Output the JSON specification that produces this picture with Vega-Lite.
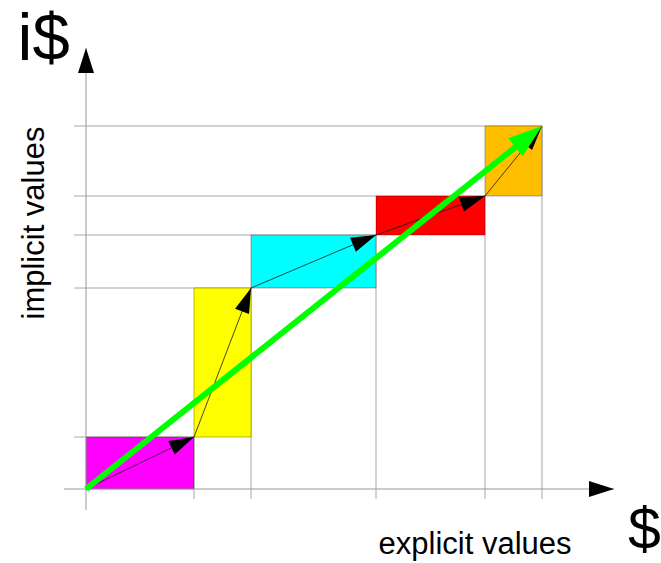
{
  "$schema": "https://vega.github.io/schema/vega-lite/v6.json",
  "width": 661,
  "height": 563,
  "autosize": {"type": "none"},
  "padding": 0,
  "background": "white",
  "config": {
    "view": {"stroke": null}
  },
  "datasets": {
    "steps": [
      {"segment": "1", "x0": 0, "y0": 0, "x": 108, "y": 52},
      {"segment": "2", "x0": 108, "y0": 52, "x": 165, "y": 201},
      {"segment": "3", "x0": 165, "y0": 201, "x": 290, "y": 254},
      {"segment": "4", "x0": 290, "y0": 254, "x": 399, "y": 293},
      {"segment": "5", "x0": 399, "y0": 293, "x": 456, "y": 363}
    ],
    "total": [{"x0": 0, "y0": 0, "x": 456, "y": 363}],
    "axes": [
      {"axis": "x", "x0": -22, "y0": 0, "x": 528, "y": 0},
      {"axis": "y", "x0": 0, "y0": -21, "x": 0, "y": 441}
    ]
  },
  "layer": [
    {
      "data": {"name": "steps"},
      "mark": {"type": "rule", "color": "#a8a8a8", "strokeWidth": 1},
      "encoding": {
        "x": {"field": "x", "type": "quantitative", "axis": null, "scale": {"domain": [-86, 575], "nice": false, "zero": false}},
        "x2": {"datum": -12},
        "y": {"field": "y", "type": "quantitative", "axis": null, "scale": {"domain": [-74, 489], "nice": false, "zero": false}}
      }
    },
    {
      "data": {"name": "steps"},
      "mark": {"type": "rule", "color": "#a8a8a8", "strokeWidth": 1},
      "encoding": {
        "x": {"field": "x", "type": "quantitative", "axis": null},
        "y": {"field": "y", "type": "quantitative", "axis": null},
        "y2": {"datum": -10}
      }
    },
    {
      "data": {"name": "steps"},
      "mark": {"type": "rect", "stroke": "#000000", "strokeOpacity": 0.3, "strokeWidth": 1, "opacity": 1},
      "encoding": {
        "x": {"field": "x0", "type": "quantitative", "axis": null},
        "x2": {"field": "x"},
        "y": {"field": "y0", "type": "quantitative", "axis": null},
        "y2": {"field": "y"},
        "fill": {
          "field": "segment",
          "type": "nominal",
          "scale": {"domain": ["1", "2", "3", "4", "5"], "range": ["#ff00ff", "#ffff00", "#00ffff", "#ff0000", "#ffbf00"]},
          "legend": null
        }
      }
    },
    {
      "data": {"name": "axes"},
      "mark": {"type": "rule", "color": "#999999", "strokeWidth": 1},
      "encoding": {
        "x": {"field": "x0", "type": "quantitative", "axis": null},
        "x2": {"field": "x"},
        "y": {"field": "y0", "type": "quantitative", "axis": null},
        "y2": {"field": "y"}
      }
    },
    {
      "data": {"name": "steps"},
      "mark": {"type": "rule", "color": "#1a1a1a", "strokeWidth": 0.8},
      "encoding": {
        "x": {"field": "x0", "type": "quantitative", "axis": null},
        "x2": {"field": "x"},
        "y": {"field": "y0", "type": "quantitative", "axis": null},
        "y2": {"field": "y"}
      }
    },
    {
      "data": {"name": "steps"},
      "transform": [{"calculate": "atan2(-(datum.y - datum.y0), datum.x - datum.x0) * 180 / PI", "as": "ang"}],
      "mark": {"type": "point", "shape": "M0,0L-1,-0.3L-1,0.3Z", "size": 2500, "filled": true, "color": "#000000", "opacity": 1, "strokeWidth": 0},
      "encoding": {
        "x": {"field": "x", "type": "quantitative", "axis": null},
        "y": {"field": "y", "type": "quantitative", "axis": null},
        "angle": {"field": "ang", "type": "quantitative", "scale": null}
      }
    },
    {
      "data": {"name": "total"},
      "mark": {"type": "rule", "color": "#00ff00", "strokeWidth": 6, "strokeCap": "butt", "strokeDash": [556, 200]},
      "encoding": {
        "x": {"field": "x0", "type": "quantitative", "axis": null},
        "x2": {"field": "x"},
        "y": {"field": "y0", "type": "quantitative", "axis": null},
        "y2": {"field": "y"}
      }
    },
    {
      "data": {"name": "total"},
      "transform": [{"calculate": "atan2(-(datum.y - datum.y0), datum.x - datum.x0) * 180 / PI", "as": "ang"}],
      "mark": {"type": "point", "shape": "M0,0L-1,-0.34L-1,0.34Z", "size": 4624, "filled": true, "color": "#00ff00", "opacity": 1, "strokeWidth": 0},
      "encoding": {
        "x": {"field": "x", "type": "quantitative", "axis": null},
        "y": {"field": "y", "type": "quantitative", "axis": null},
        "angle": {"field": "ang", "type": "quantitative", "scale": null}
      }
    },
    {
      "data": {"name": "axes"},
      "transform": [{"calculate": "atan2(-(datum.y - datum.y0), datum.x - datum.x0) * 180 / PI", "as": "ang"}],
      "mark": {"type": "point", "shape": "M0,0L-1,-0.32L-1,0.32Z", "size": 2500, "filled": true, "color": "#000000", "opacity": 1, "strokeWidth": 0},
      "encoding": {
        "x": {"field": "x", "type": "quantitative", "axis": null},
        "y": {"field": "y", "type": "quantitative", "axis": null},
        "angle": {"field": "ang", "type": "quantitative", "scale": null}
      }
    },
    {
      "data": {"values": [{"label": "i$", "x": -68.5, "y": 429}]},
      "mark": {"type": "text", "font": "Liberation Sans", "fontSize": 67, "align": "left", "baseline": "alphabetic", "color": "#000000"},
      "encoding": {
        "x": {"field": "x", "type": "quantitative", "axis": null},
        "y": {"field": "y", "type": "quantitative", "axis": null},
        "text": {"field": "label"}
      }
    },
    {
      "data": {"values": [{"label": "$", "x": 558.3, "y": -60.3}]},
      "mark": {"type": "text", "font": "Liberation Sans", "fontSize": 59, "align": "center", "baseline": "alphabetic", "color": "#000000"},
      "encoding": {
        "x": {"field": "x", "type": "quantitative", "axis": null},
        "y": {"field": "y", "type": "quantitative", "axis": null},
        "text": {"field": "label"}
      }
    },
    {
      "data": {"values": [{"label": "explicit values", "x": 389, "y": -65.3}]},
      "mark": {"type": "text", "font": "Liberation Sans", "fontSize": 31, "align": "center", "baseline": "alphabetic", "color": "#000000"},
      "encoding": {
        "x": {"field": "x", "type": "quantitative", "axis": null},
        "y": {"field": "y", "type": "quantitative", "axis": null},
        "text": {"field": "label"}
      }
    },
    {
      "data": {"values": [{"label": "implicit values", "x": -42.5, "y": 266}]},
      "mark": {"type": "text", "font": "Liberation Sans", "fontSize": 31, "align": "center", "baseline": "alphabetic", "angle": 270, "color": "#000000"},
      "encoding": {
        "x": {"field": "x", "type": "quantitative", "axis": null},
        "y": {"field": "y", "type": "quantitative", "axis": null},
        "text": {"field": "label"}
      }
    }
  ]
}
